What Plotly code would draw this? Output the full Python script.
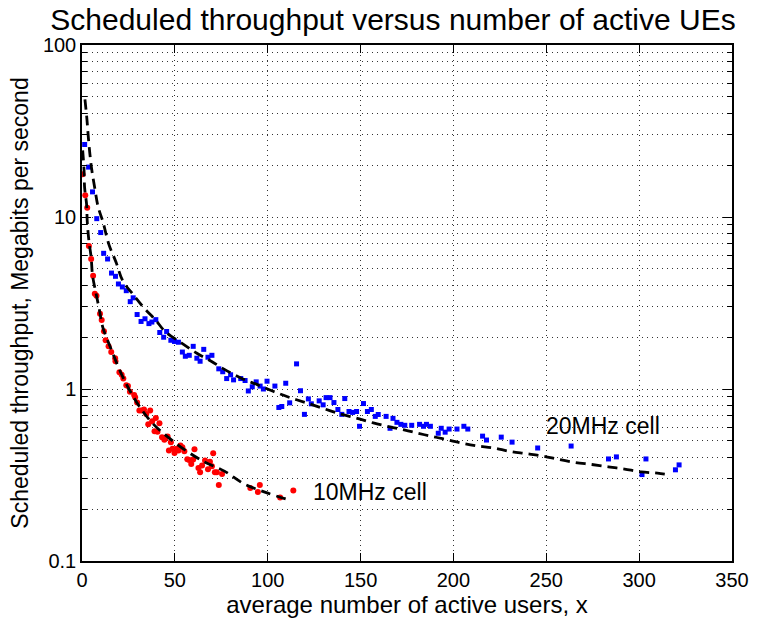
import math
import plotly.graph_objects as go

# 20 MHz cell measurements (blue squares)
users_20 = [1.43, 3.55, 5.67, 7.95, 10.07, 11.66, 13.78, 15.90, 18.02, 19.61,
            21.73, 23.85, 25.97, 27.56, 29.68, 31.80, 33.92, 36.04, 37.63, 39.75,
            41.87, 43.98, 45.57, 47.85, 49.81, 51.93, 54.05, 55.64, 57.76, 59.88,
            61.84, 63.59, 65.55, 67.83, 69.95, 73.66, 75.78, 77.90, 80.02, 81.61,
            85.48, 87.81, 89.56, 91.68, 93.80, 95.92, 97.67, 99.63, 103.87, 105.99,
            107.58, 109.70, 111.82, 115.53, 117.65, 119.77, 121.89, 123.48, 127.72, 129.84,
            131.43, 133.55, 135.66, 137.78, 139.90, 141.49, 143.77, 145.73, 147.85, 149.44,
            151.56, 153.68, 155.80, 157.92, 159.51, 163.75, 165.87, 167.46, 169.58, 171.70,
            173.82, 177.53, 181.77, 183.89, 185.48, 187.60, 191.84, 193.43, 195.55, 197.67,
            201.91, 205.62, 207.74, 215.69, 217.81, 225.75, 231.58, 245.36, 263.38, 283.51,
            287.76, 301.54, 303.66, 319.55, 321.51]
thr_20 = [26.4, 19.5, 14.0, 9.78, 8.12, 6.15, 5.70, 4.72, 4.52, 4.08,
          3.92, 3.73, 3.22, 3.39, 2.71, 2.47, 2.56, 2.40, 2.45, 2.53,
          2.13, 2.00, 2.16, 1.92, 1.89, 1.87, 1.64, 1.55, 1.57, 1.77,
          1.51, 1.45, 1.70, 1.53, 1.57, 1.31, 1.26, 1.15, 1.21, 1.13,
          1.15, 1.12, 0.974, 1.03, 1.10, 1.04, 1.00, 1.11, 1.04, 0.781,
          0.791, 1.08, 0.831, 1.40, 0.977, 0.712, 0.876, 0.820, 0.853, 0.809,
          0.891, 0.891, 0.834, 0.760, 0.712, 0.880, 0.740, 0.731, 0.740, 0.607,
          0.823, 0.740, 0.760, 0.693, 0.711, 0.693, 0.591, 0.675, 0.640, 0.623,
          0.615, 0.615, 0.623, 0.607, 0.623, 0.607, 0.553, 0.591, 0.561, 0.585,
          0.585, 0.607, 0.585, 0.532, 0.505, 0.525, 0.491, 0.454, 0.466, 0.392,
          0.403, 0.318, 0.392, 0.339, 0.362]

# 10 MHz cell measurements (red dots)
users_10 = [0.3, 1.75, 2.81, 3.71, 4.93, 5.99, 6.89, 7.79, 9.70, 10.60,
            11.82, 12.72, 14.31, 15.74, 17.86, 18.02, 20.14, 21.36, 22.26, 23.85,
            24.75, 25.81, 28.09, 28.62, 29.68, 30.90, 32.17, 33.39, 34.61, 35.67,
            36.72, 37.78, 39.06, 39.75, 40.65, 41.71, 43.08, 44.36, 45.04, 46.11,
            46.79, 47.85, 48.75, 49.81, 51.03, 51.93, 52.99, 54.05, 55.11, 56.70,
            57.76, 58.82, 59.88, 60.57, 62.69, 63.59, 64.65, 66.24, 67.83, 68.89,
            69.95, 70.64, 71.54, 72.60, 73.66, 75.41, 90.62, 94.70, 95.76, 106.68,
            113.78]
thr_10 = [17.7, 13.4, 11.3, 6.79, 5.70, 4.55, 3.58, 3.49, 2.74, 2.52,
          2.17, 1.92, 1.77, 1.64, 1.51, 1.45, 1.25, 1.21, 1.15, 1.05,
          1.04, 0.965, 0.924, 0.896, 0.834, 0.750, 0.750, 0.760, 0.715, 0.623,
          0.750, 0.649, 0.568, 0.679, 0.564, 0.632, 0.525, 0.507, 0.523, 0.530,
          0.439, 0.491, 0.450, 0.425, 0.450, 0.439, 0.470, 0.458, 0.434, 0.391,
          0.387, 0.367, 0.389, 0.446, 0.347, 0.328, 0.359, 0.384, 0.342, 0.377,
          0.355, 0.423, 0.328, 0.328, 0.277, 0.320, 0.266, 0.252, 0.277, 0.234,
          0.257]

# fitted curves
fit_x_20 = [1.59, 2.65, 3.34, 4.24, 5.30, 6.89, 8.64, 11.29, 14.47, 18.39,
            21.89, 27.19, 33.39, 39.59, 44.89, 53.68, 61.63, 69.58, 76.68, 85.48,
            94.33, 103.18, 111.98, 120.83, 129.99, 139.38, 148.22, 156.86, 166.77, 175.57,
            184.42, 194.12, 203.87, 212.67, 221.52, 230.37, 239.16, 248.01, 256.86, 265.66,
            274.51, 283.36, 292.16, 301.01, 309.86, 316.90]
fit_y_20 = [48.3, 37.1, 29.7, 23.3, 18.7, 14.7, 11.5, 9.36, 6.93, 5.44,
            4.27, 3.58, 2.96, 2.52, 2.15, 1.85, 1.62, 1.45, 1.30, 1.16,
            1.06, 0.967, 0.891, 0.831, 0.770, 0.715, 0.675, 0.635, 0.599, 0.571,
            0.542, 0.514, 0.486, 0.467, 0.454, 0.434, 0.421, 0.408, 0.389, 0.374,
            0.364, 0.353, 0.342, 0.330, 0.324, 0.316]
fit_x_10 = [0.37, 1.06, 1.43, 2.49, 2.81, 3.71, 4.93, 5.67, 7.58, 9.38,
            11.13, 15.74, 21.73, 28.99, 37.63, 49.81, 64.12, 76.68, 87.28, 99.63,
            111.13]
fit_y_10 = [24.4, 19.1, 14.7, 11.8, 9.48, 7.28, 5.81, 4.58, 3.58, 2.88,
            2.30, 1.70, 1.19, 0.853, 0.638, 0.490, 0.386, 0.333, 0.281, 0.249,
            0.227]

# curve labels: (text, x, throughput)
labels = [("20MHz cell", 248.9, 0.613), ("10MHz cell", 123.5, 0.253)]

x_ticks = [0, 50, 100, 150, 200, 250, 300, 350]
y_ticks = [0.1, 1, 10, 100]
y_tick_text = ["0.1", "1", "10", "100"]
y_minor = [m * 10 ** d for d in (-1, 0, 1) for m in range(2, 10)]

FONT = "Liberation Sans, Arial, Helvetica, sans-serif"
DASH = "10px,6px"

fig = go.Figure()
fig.add_trace(go.Scatter(x=users_20, y=thr_20, mode="markers",
                         marker=dict(symbol="square", size=5, color="#0000ff"),
                         showlegend=False))
fig.add_trace(go.Scatter(x=users_10, y=thr_10, mode="markers",
                         marker=dict(symbol="circle", size=6, color="#ff0000"),
                         showlegend=False))
fig.add_trace(go.Scatter(x=fit_x_20, y=fit_y_20, mode="lines",
                         line=dict(color="black", width=2.8, dash=DASH, shape="spline"),
                         showlegend=False))
fig.add_trace(go.Scatter(x=fit_x_10, y=fit_y_10, mode="lines",
                         line=dict(color="black", width=2.8, dash=DASH, shape="spline"),
                         showlegend=False))

for text, lx, ly in labels:
    # annotations on a log axis are placed in log10 units
    fig.add_annotation(x=lx, y=math.log10(ly), xref="x", yref="y", text=text,
                       showarrow=False, xanchor="left", yanchor="middle",
                       font=dict(family=FONT, size=23, color="black"))

GRID_DASH = "1px,4px"
GRID_COLOR = "#333333"

fig.update_layout(
    width=761, height=624,
    margin=dict(l=82, r=19, t=45, b=57),
    paper_bgcolor="white", plot_bgcolor="white",
    font=dict(family=FONT, size=20, color="black"),
    title=dict(text="Scheduled throughput versus number of active UEs",
               x=0.5164, xref="container", xanchor="center",
               y=1 - 19 / 624, yref="container", yanchor="middle",
               font=dict(family=FONT, size=30, color="black")),
    xaxis=dict(range=[0, 350], tickvals=x_ticks, ticks="inside", ticklen=8,
               tickcolor="black",
               showline=True, linecolor="black", linewidth=1.5, mirror="allticks",
               showgrid=True, zeroline=False,
               griddash=GRID_DASH, gridcolor=GRID_COLOR, gridwidth=1,
               title=dict(text="average number of active users, x",
                          font=dict(family=FONT, size=24), standoff=4),
               tickfont=dict(family=FONT, size=20)),
    yaxis=dict(type="log", range=[-1, 2], tickvals=y_ticks, ticktext=y_tick_text,
               ticks="inside", ticklen=9, tickcolor="black",
               showline=True, linecolor="black", linewidth=1.5, mirror="allticks",
               showgrid=True, zeroline=False,
               griddash=GRID_DASH, gridcolor=GRID_COLOR, gridwidth=1,
               minor=dict(tickvals=y_minor, ticks="inside", ticklen=5, tickcolor="black",
                          showgrid=True, griddash=GRID_DASH, gridcolor=GRID_COLOR,
                          gridwidth=1),
               title=dict(text="Scheduled throughput, Megabits per second",
                          font=dict(family=FONT, size=23), standoff=8),
               tickfont=dict(family=FONT, size=20)),
)

fig.write_html("out.html")
